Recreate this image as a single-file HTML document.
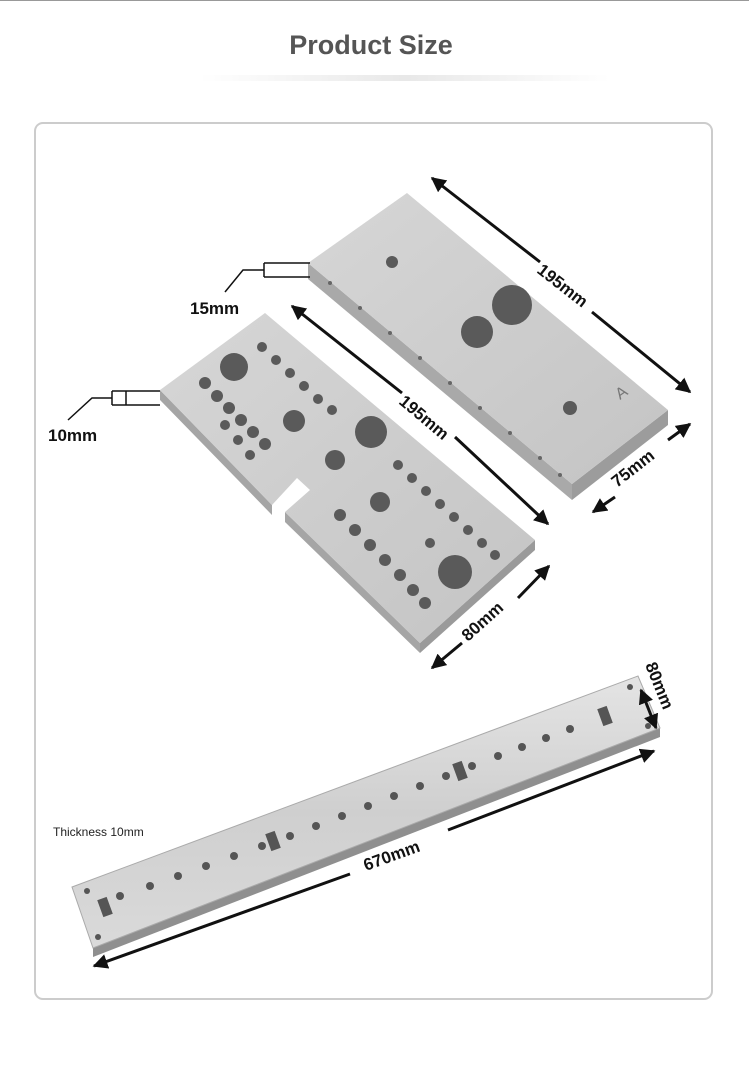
<!DOCTYPE html>
<html><head><meta charset="utf-8"><style>
html,body{margin:0;padding:0;background:#fff;width:749px;height:1079px;overflow:hidden;font-family:"Liberation Sans",sans-serif}
</style></head><body>
<svg width="749" height="1079" viewBox="0 0 749 1079" xmlns="http://www.w3.org/2000/svg">
<defs>
<marker id="a" viewBox="0 0 10 10" refX="9" refY="5" markerWidth="5" markerHeight="5" orient="auto-start-reverse"><path d="M0,0L10,5L0,10z" fill="#111"/></marker>
<linearGradient id="sh" x1="0" x2="1"><stop offset="0" stop-color="#fff"/><stop offset=".5" stop-color="#e8e8e8"/><stop offset="1" stop-color="#fff"/></linearGradient>
<linearGradient id="pl" x1="0" y1="0" x2="1" y2="1"><stop offset="0" stop-color="#d6d6d6"/><stop offset="1" stop-color="#c4c4c4"/></linearGradient>
<linearGradient id="bar" x1="0" y1="0" x2="0" y2="1"><stop offset="0" stop-color="#e4e4e4"/><stop offset=".5" stop-color="#cfcfcf"/><stop offset="1" stop-color="#dadada"/></linearGradient>
</defs>
<line x1="0" y1="0.5" x2="749" y2="0.5" stroke="#999"/>
<text x="371" y="54" text-anchor="middle" font-size="27" font-weight="bold" fill="#555">Product Size</text>
<rect x="200" y="75" width="410" height="6" fill="url(#sh)"/>
<rect x="35" y="123" width="677" height="876" rx="8" fill="#fff" stroke="#ccc" stroke-width="2"/>

<polygon points="308,263 572,484 572,500 308,279" fill="#a9a9a9"/>
<polygon points="572,484 668,410 668,425 572,500" fill="#9c9c9c"/>
<polygon points="308,263 407,193 668,410 572,484" fill="url(#pl)"/>
<g fill="#5a5a5a"><circle cx="392" cy="262" r="6"/><circle cx="512" cy="305" r="20"/><circle cx="477" cy="332" r="16"/><circle cx="570" cy="408" r="7"/></g>
<g fill="#666"><circle cx="330" cy="283" r="2"/><circle cx="360" cy="308" r="2"/><circle cx="390" cy="333" r="2"/><circle cx="420" cy="358" r="2"/><circle cx="450" cy="383" r="2"/><circle cx="480" cy="408" r="2"/><circle cx="510" cy="433" r="2"/><circle cx="540" cy="458" r="2"/><circle cx="560" cy="475" r="2"/></g>
<text x="620" y="400" font-size="16" fill="#777" transform="rotate(-35 620 400)">A</text>

<polygon points="160,390 272,505 272,515 160,400" fill="#a5a5a5"/>
<polygon points="285,512 420,643 420,653 285,522" fill="#a5a5a5"/>
<polygon points="420,643 535,540 535,550 420,653" fill="#9a9a9a"/>
<polygon points="160,390 265,313 535,540 420,643 285,512 310,490 297,478 272,505" fill="url(#pl)"/>
<g fill="#5a5a5a">
<circle cx="234" cy="367" r="14"/><circle cx="371" cy="432" r="16"/><circle cx="294" cy="421" r="11"/><circle cx="335" cy="460" r="10"/><circle cx="380" cy="502" r="10"/><circle cx="455" cy="572" r="17"/>
<circle cx="205" cy="383" r="6"/><circle cx="217" cy="396" r="6"/><circle cx="229" cy="408" r="6"/><circle cx="241" cy="420" r="6"/><circle cx="253" cy="432" r="6"/><circle cx="265" cy="444" r="6"/>
<circle cx="262" cy="347" r="5"/><circle cx="276" cy="360" r="5"/><circle cx="290" cy="373" r="5"/><circle cx="304" cy="386" r="5"/><circle cx="318" cy="399" r="5"/><circle cx="332" cy="410" r="5"/>
<circle cx="225" cy="425" r="5"/><circle cx="238" cy="440" r="5"/><circle cx="250" cy="455" r="5"/>
<circle cx="340" cy="515" r="6"/><circle cx="355" cy="530" r="6"/><circle cx="370" cy="545" r="6"/><circle cx="385" cy="560" r="6"/><circle cx="400" cy="575" r="6"/><circle cx="413" cy="590" r="6"/><circle cx="425" cy="603" r="6"/>
<circle cx="398" cy="465" r="5"/><circle cx="412" cy="478" r="5"/><circle cx="426" cy="491" r="5"/><circle cx="440" cy="504" r="5"/><circle cx="454" cy="517" r="5"/><circle cx="468" cy="530" r="5"/><circle cx="482" cy="543" r="5"/>
<circle cx="430" cy="543" r="5"/><circle cx="495" cy="555" r="5"/>
</g>

<polygon points="93,948 660,728 660,737 93,957" fill="#8f8f8f"/>
<polygon points="72,887 638,676 660,728 93,948" fill="url(#bar)" stroke="#aaa"/>
<g fill="#555">
<circle cx="120" cy="896" r="4"/><circle cx="150" cy="886" r="4"/><circle cx="178" cy="876" r="4"/><circle cx="206" cy="866" r="4"/><circle cx="234" cy="856" r="4"/><circle cx="262" cy="846" r="4"/><circle cx="290" cy="836" r="4"/><circle cx="316" cy="826" r="4"/><circle cx="342" cy="816" r="4"/><circle cx="368" cy="806" r="4"/><circle cx="394" cy="796" r="4"/><circle cx="420" cy="786" r="4"/><circle cx="446" cy="776" r="4"/><circle cx="472" cy="766" r="4"/><circle cx="498" cy="756" r="4"/><circle cx="522" cy="747" r="4"/><circle cx="546" cy="738" r="4"/><circle cx="570" cy="729" r="4"/>
<rect x="100" y="898" width="10" height="18" transform="rotate(-20 105 907)"/><rect x="268" y="832" width="10" height="18" transform="rotate(-20 273 841)"/><rect x="455" y="762" width="10" height="18" transform="rotate(-20 460 771)"/><rect x="600" y="707" width="10" height="18" transform="rotate(-20 605 716)"/>
<circle cx="87" cy="891" r="3"/><circle cx="98" cy="937" r="3"/><circle cx="630" cy="687" r="3"/><circle cx="648" cy="726" r="3"/></g>

<g stroke="#111" stroke-width="3" fill="none">
<line x1="432" y1="178" x2="540" y2="262" marker-start="url(#a)"/><line x1="592" y1="312" x2="690" y2="392" marker-end="url(#a)"/>
<line x1="593" y1="512" x2="615" y2="497" marker-start="url(#a)"/><line x1="668" y1="440" x2="690" y2="424" marker-end="url(#a)"/>
<line x1="292" y1="306" x2="402" y2="393" marker-start="url(#a)"/><line x1="455" y1="437" x2="548" y2="524" marker-end="url(#a)"/>
<line x1="432" y1="668" x2="462" y2="643" marker-start="url(#a)"/><line x1="518" y1="598" x2="549" y2="566" marker-end="url(#a)"/>
<line x1="94" y1="966" x2="350" y2="874" marker-start="url(#a)"/><line x1="448" y1="830" x2="654" y2="751" marker-end="url(#a)"/>
<line x1="641" y1="690" x2="656" y2="728" marker-start="url(#a)" marker-end="url(#a)"/>
</g>
<g stroke="#111" stroke-width="1.5" fill="none">
<polyline points="225,292 243,270 264,270"/><line x1="264" y1="263" x2="310" y2="263"/><line x1="264" y1="277" x2="310" y2="277"/><line x1="264" y1="263" x2="264" y2="277"/>
<polyline points="68,420 92,398 112,398"/><line x1="112" y1="391" x2="160" y2="391"/><line x1="112" y1="405" x2="160" y2="405"/><line x1="112" y1="391" x2="112" y2="405"/><line x1="126" y1="391" x2="126" y2="405"/>
</g>
<g font-weight="bold" font-size="17" fill="#111">
<text x="190" y="314">15mm</text>
<text x="48" y="441">10mm</text>
<text x="536" y="272" transform="rotate(38 536 272)">195mm</text>
<text x="398" y="403" transform="rotate(40 398 403)">195mm</text>
<text x="617" y="488" transform="rotate(-38 617 488)">75mm</text>
<text x="468" y="642" transform="rotate(-42 468 642)">80mm</text>
<text x="366" y="871" transform="rotate(-20 366 871)">670mm</text>
<text x="645" y="665" transform="rotate(68 645 665)">80mm</text>
</g>
<text x="53" y="836" font-size="12" fill="#222">Thickness 10mm</text>
</svg>
</body></html>
